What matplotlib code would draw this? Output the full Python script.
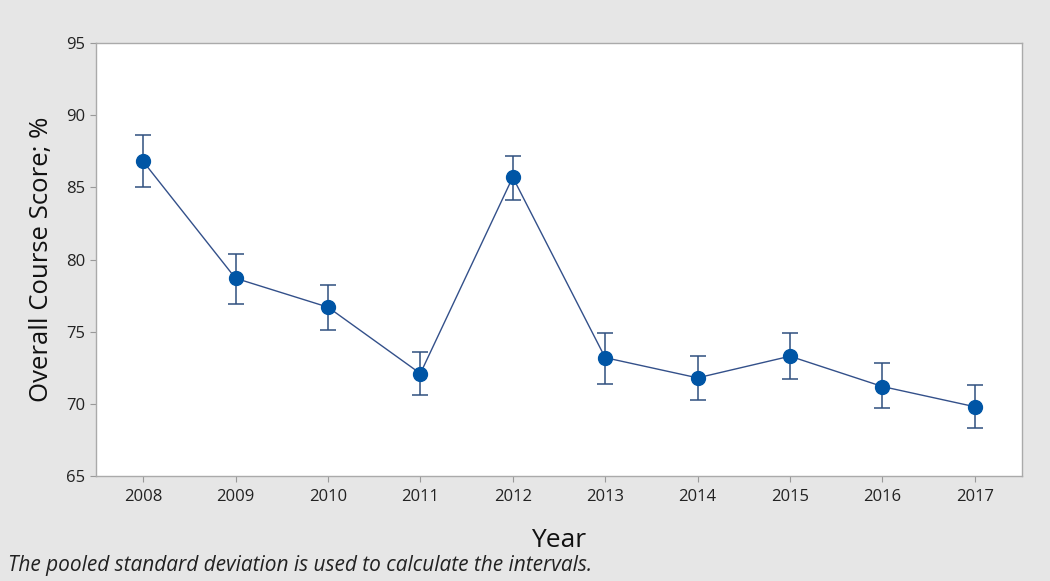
import matplotlib
matplotlib.use("Agg")
import matplotlib.pyplot as plt
import numpy as np

years = ["2008", "2009", "2010", "2011", "2012", "2013", "2014", "2015", "2016", "2017"]
means = [86.8, 78.7, 76.7, 72.1, 85.7, 73.2, 71.8, 73.3, 71.2, 69.8]
upper = [88.6, 80.4, 78.2, 73.6, 87.2, 74.9, 73.3, 74.9, 72.8, 71.3]
lower = [85.0, 76.9, 75.1, 70.6, 84.1, 71.4, 70.3, 71.7, 69.7, 68.3]

plt.rcParams['font.family'] = ['Open Sans', 'DejaVu Sans']

fig = plt.figure(figsize=(10.5, 5.81), dpi=100)
fig.patch.set_facecolor('#e6e6e6')
ax = fig.add_axes([0.0914, 0.1807, 0.8819, 0.7453])
ax.set_facecolor('white')

x = np.arange(len(years))
m = np.array(means)
yerr = np.vstack([m - np.array(lower), np.array(upper) - m])
ax.errorbar(x, m, yerr=yerr, fmt='none', ecolor='#2f4f7f', elinewidth=1.1,
            capsize=6, capthick=1.1, zorder=2)
ax.plot(x, m, color='#33508a', linewidth=1.0, zorder=3)
ax.plot(x, m, 'o', color='#0055a5', markersize=10, zorder=4)

ax.set_xlim(-0.51, 9.51)
ax.set_ylim(65, 95)
ax.set_yticks([65, 70, 75, 80, 85, 90, 95])
ax.set_xticks(x)
ax.set_xticklabels(years)
ax.tick_params(axis='both', direction='out', length=4, color='#999999',
               labelsize=12, labelcolor='#222222')
ax.tick_params(axis='x', pad=5)
for s in ax.spines.values():
    s.set_color('#aaaaaa')
    s.set_linewidth(1.0)

ax.set_ylabel("Overall Course Score; %", fontsize=18.5, color='#111111', labelpad=9)
ax.set_xlabel("Year", fontsize=19, color='#111111', labelpad=17)

fig.text(0.008, 0.008, "The pooled standard deviation is used to calculate the intervals.",
         fontsize=15, style='italic', color='#222222', ha='left', va='bottom')

fig.savefig("out.png", dpi=100, facecolor=fig.get_facecolor())
